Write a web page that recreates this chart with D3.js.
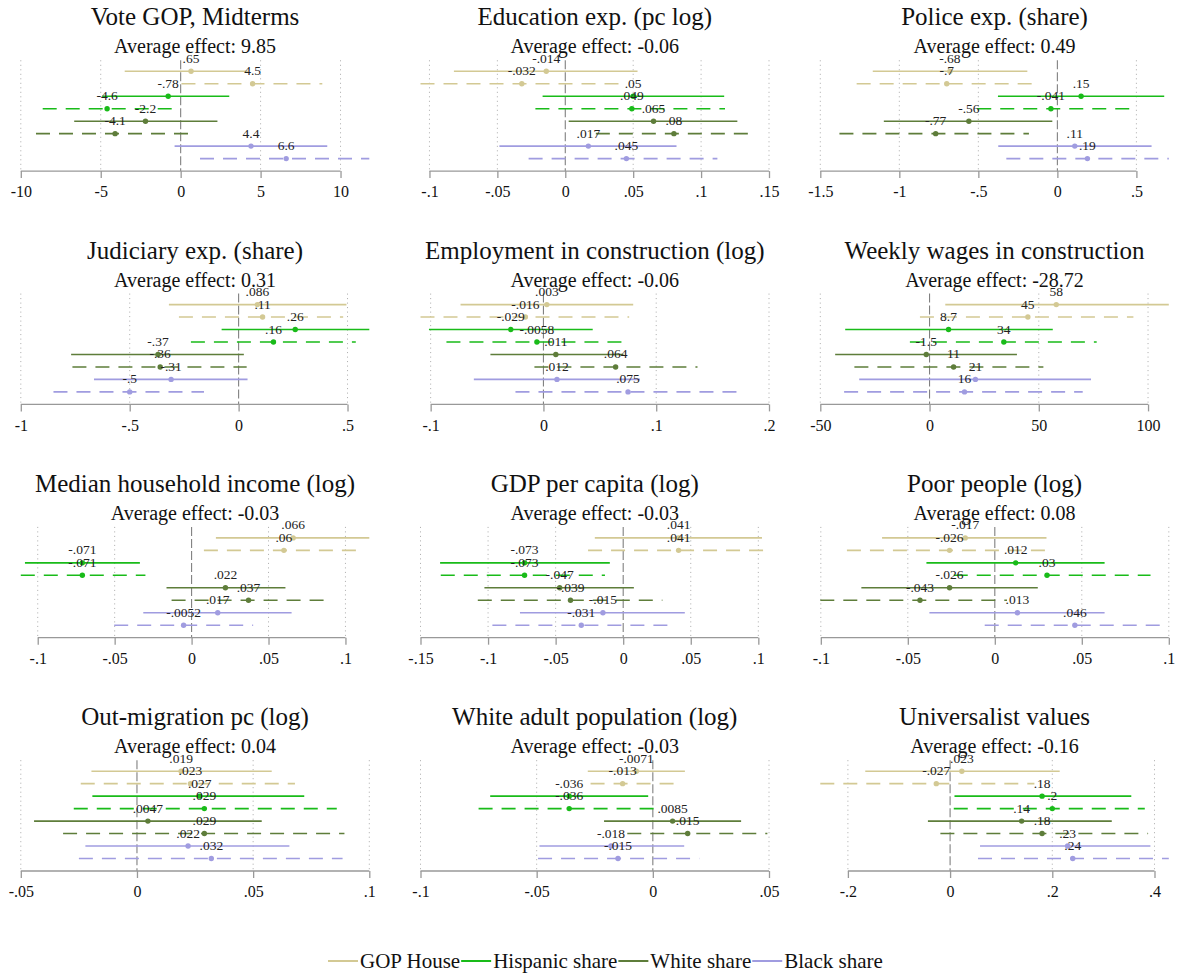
<!DOCTYPE html>
<html>
<head>
<meta charset="utf-8">
<script src="https://cdn.jsdelivr.net/npm/d3@7"></script>
<style>
  body { margin: 0; background: #fff; }
  svg { font-family: "Liberation Serif", "DejaVu Serif", serif; }
  .grid { stroke: #aaa; stroke-width: 1; stroke-dasharray: 1 3.5; }
  .zero { stroke: #808080; stroke-width: 1.1; stroke-dasharray: 9 3; }
</style>
</head>
<body>
<svg width="1179" height="973"></svg>
<script>
// groups, one solid + one dashed row each
var groups = ["GOP House", "Hispanic share", "White share", "Black share"];
var colors = ["#d3c994", "#19bb19", "#5e7d3a", "#a09ce0"];

var titles = ["Vote GOP, Midterms", "Education exp. (pc log)", "Police exp. (share)",
  "Judiciary exp. (share)", "Employment in construction (log)", "Weekly wages in construction",
  "Median household income (log)", "GDP per capita (log)", "Poor people (log)",
  "Out-migration pc (log)", "White adult population (log)", "Universalist values"];

var avgEffect = ["9.85", "-0.06", "0.49", "0.31", "-0.06", "-28.72",
  "-0.03", "-0.03", "0.08", "0.04", "-0.03", "-0.16"];

var ticks = [
  [-10, -5, 0, 5, 10],
  [-.1, -.05, 0, .05, .1, .15],
  [-1.5, -1, -.5, 0, .5],
  [-1, -.5, 0, .5],
  [-.1, 0, .1, .2],
  [-50, 0, 50, 100],
  [-.1, -.05, 0, .05, .1],
  [-.15, -.1, -.05, 0, .05, .1],
  [-.1, -.05, 0, .05, .1],
  [-.05, 0, .05, .1],
  [-.1, -.05, 0, .05],
  [-.2, 0, .2, .4]
];

// point estimates, rows: GOP solid, GOP dashed, Hisp solid, Hisp dashed, White solid, White dashed, Black solid, Black dashed
var est = [
  [.65, 4.5, -.78, -4.6, -2.2, -4.1, 4.4, 6.6],
  [-.014, -.032, .05, .049, .065, .08, .017, .045],
  [-.68, -.7, .15, -.041, -.56, -.77, .11, .19],
  [.086, .11, .26, .16, -.37, -.36, -.31, -.5],
  [.003, -.016, -.029, -.0058, .011, .064, .012, .075],
  [58, 45, 8.7, 34, -1.5, 11, 21, 16],
  [.066, .06, -.071, -.071, .022, .037, .017, -.0052],
  [.041, .041, -.073, -.073, -.047, -.039, -.015, -.031],
  [-.017, -.026, .012, .03, -.026, -.043, .013, .046],
  [.019, .023, .027, .029, .0047, .029, .022, .032],
  [-.0071, -.013, -.036, -.036, .0085, .015, -.018, -.015],
  [.023, -.027, .18, .2, .14, .18, .23, .24]
];

var lo = [
  [-3.5, 0.05, -4.9, -8.63, -6.66, -9.05, -0.38, 1.21],
  [-.082, -.1066, -.0167, -.022, .0025, .0225, -.0485, -.027],
  [-1.168, -1.27, -.376, -.507, -1.098, -1.379, -.374, -.323],
  [-.32, -.274, -.078, -.219, -.769, -.763, -.664, -.85],
  [-.0735, -.109, -.1015, -.086, -.047, -.008, -.0617, -.0248],
  [7.2, -4.4, -38.6, -9.0, -43.2, -34.4, -32.2, -39.1],
  [.0158, .008, -.1083, -.111, -.0163, -.013, -.0314, -.0503],
  [-.021, -.026, -.1355, -.135, -.1027, -.1076, -.0764, -.0968],
  [-.0648, -.085, -.0393, -.0236, -.0767, -.1003, -.0376, -.0058],
  [-.0196, -.0242, -.0192, -.0272, -.0443, -.0318, -.0222, -.025],
  [-.028, -.0268, -.07, -.075, -.021, -.011, -.0488, -.0494],
  [-.166, -.254, .0086, .0072, -.0434, -.019, .0586, .0546]
];

var hi = [
  [4.2, 8.86, 3.04, -0.48, 2.3, 0.88, 9.17, 11.8],
  [.0532, .0434, .117, .1176, .1267, .140, .0819, .112],
  [-.19, -.14, .676, .475, -.032, -.18, .596, .705],
  [.495, .48, .6, .538, .024, .037, .041, -.159],
  [.0796, .076, .0437, .075, .071, .1366, .0855, .175],
  [109.5, 93.3, 56.4, 76.5, 40.0, 52.1, 73.9, 70.1],
  [.1155, .112, -.0336, -.03, .061, .0878, .065, .040],
  [.1027, .1079, -.0099, -.0135, .0079, .029, .0456, .034],
  [.0297, .0324, .0631, .0895, .0247, .007, .0631, .0986],
  [.058, .068, .072, .086, .0537, .0893, .0656, .0885],
  [.0138, .0114, -.002, .0027, .038, .0493, .0135, .020],
  [.2145, .165, .3546, .381, .3164, .3875, .392, .428]
];

// Stata-ish %9.2g label: two significant digits, no leading zero
function fmt(v) {
  var s = String(+(+v).toPrecision(2));
  return s.replace(/^(-?)0\./, "$1.");
}

var svg = d3.select("svg");

var colLeft = [20.8, 420.5, 820.3],
    plotW = 348.5,
    firstRow0 = 71.3,
    rowPitch = 233.3,
    rowStep = 12.47;

titles.forEach(function(title, p) {
  var c = p % 3, r = Math.floor(p / 3);
  var top = firstRow0 + r * rowPitch;
  var axisY = top + 7 * rowStep + 12.5;

  var ext = d3.extent(ticks[p].concat(lo[p], hi[p]));
  var x = d3.scaleLinear().domain(ext).range([colLeft[c], colLeft[c] + plotW]);
  var y = d3.scalePoint().domain(d3.range(8)).range([top, top + 7 * rowStep]);

  var g = svg.append("g");
  var cx = colLeft[c] + plotW / 2;

  g.append("text")
      .attr("x", cx).attr("y", top - 46)
      .attr("text-anchor", "middle")
      .attr("font-size", 25)
      .attr("fill", "#111")
      .text(title);

  g.append("text")
      .attr("x", cx).attr("y", top - 18)
      .attr("text-anchor", "middle")
      .attr("font-size", 20)
      .attr("fill", "#111")
      .text("Average effect: " + avgEffect[p]);

  // gridlines
  g.selectAll(".grid")
    .data(ticks[p].filter(function(t) { return t !== 0; }))
    .enter().append("line")
      .attr("class", "grid")
      .attr("x1", x).attr("x2", x)
      .attr("y1", top - 11).attr("y2", axisY);

  g.append("line")
      .attr("class", "zero")
      .attr("x1", x(0)).attr("x2", x(0))
      .attr("y1", top - 11).attr("y2", axisY);

  // axis
  var ax = g.append("g")
      .attr("transform", "translate(0," + axisY + ")")
      .call(d3.axisBottom(x).tickValues(ticks[p]).tickFormat(fmt).tickSize(7).tickPadding(8));
  ax.select(".domain").remove();
  ax.selectAll(".tick line").attr("stroke", "#999").attr("stroke-width", 1.3);
  ax.selectAll(".tick text")
      .attr("font-family", "Liberation Serif, serif")
      .attr("font-size", 16)
      .attr("fill", "#111");
  ax.append("line")
      .attr("x1", x(ticks[p][0])).attr("x2", x(ticks[p][ticks[p].length - 1]))
      .attr("stroke", "#999").attr("stroke-width", 1.3);

  var rows = d3.range(8);

  g.selectAll(".ci")
    .data(rows)
    .enter().append("line")
      .attr("x1", function(i) { return x(lo[p][i]); })
      .attr("x2", function(i) { return x(hi[p][i]); })
      .attr("y1", y).attr("y2", y)
      .attr("stroke", function(i) { return colors[Math.floor(i / 2)]; })
      .attr("stroke-width", 1.6)
      .attr("stroke-dasharray", function(i) { return i % 2 ? "14 9" : null; });

  g.selectAll(".pt")
    .data(rows)
    .enter().append("circle")
      .attr("cx", function(i) { return x(est[p][i]); })
      .attr("cy", y)
      .attr("r", 2.7)
      .attr("fill", function(i) { return colors[Math.floor(i / 2)]; });

  g.selectAll(".lab")
    .data(rows)
    .enter().append("text")
      .attr("x", function(i) { return x(est[p][i]); })
      .attr("y", function(i) { return y(i) - 8.5; })
      .attr("text-anchor", "middle")
      .attr("font-size", 13.5)
      .attr("fill", "#222")
      .text(function(i) { return fmt(est[p][i]); });
});

// legend
var leg = svg.append("g").attr("transform", "translate(328,961)");
var lx = 0;
groups.forEach(function(name, i) {
  leg.append("line")
      .attr("x1", lx).attr("x2", lx + 30)
      .attr("y1", 0).attr("y2", 0)
      .attr("stroke", colors[i]).attr("stroke-width", 2);
  var t = leg.append("text")
      .attr("x", lx + 32).attr("y", 7)
      .attr("font-size", 21)
      .attr("fill", "#111")
      .text(name);
  lx += 32 + t.node().getComputedTextLength() + 1;
});
</script>
</body>
</html>
